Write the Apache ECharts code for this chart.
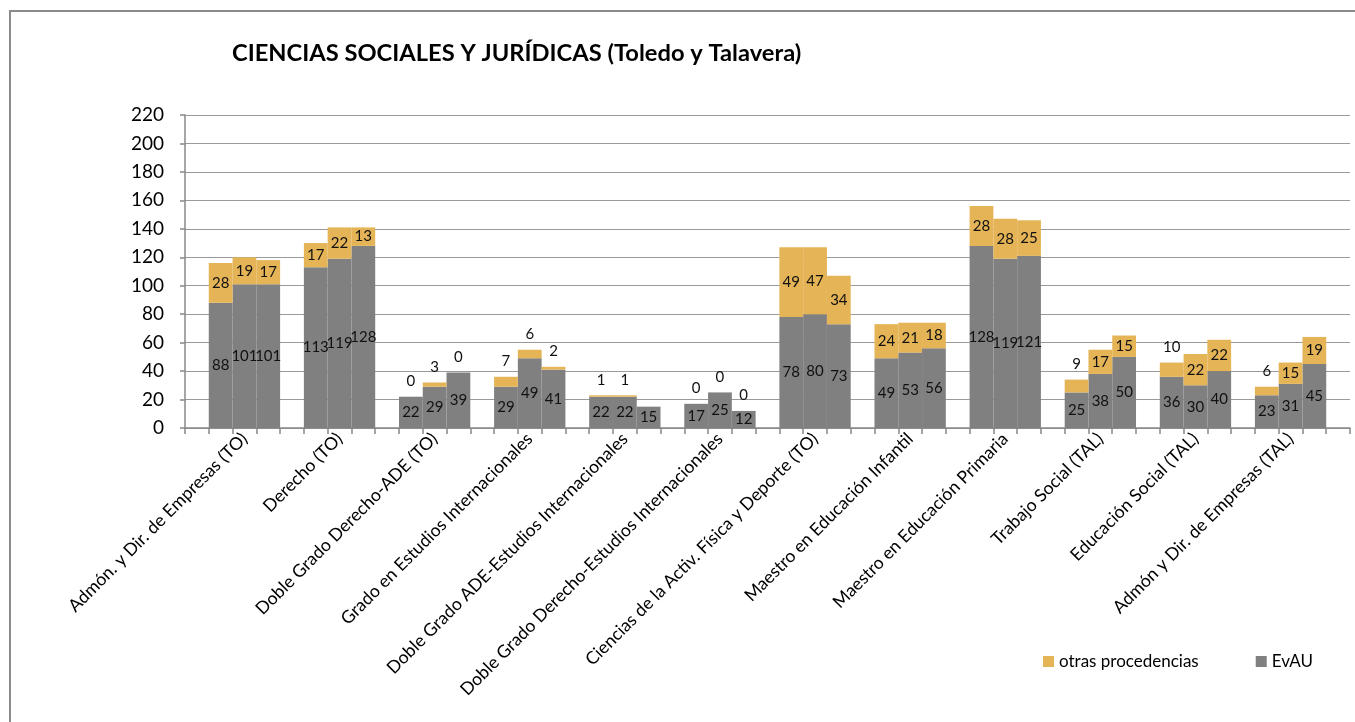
<!DOCTYPE html>
<html>
<head>
<meta charset="utf-8">
<script src="https://cdn.jsdelivr.net/npm/echarts@6/dist/echarts.min.js"></script>
<style>
  html, body { margin: 0; padding: 0; background: #fff; }
  #chart { width: 1355px; height: 722px; }
</style>
</head>
<body>
<div id="chart"></div>
<script>
// titulaciones (un grupo de 3 barras por titulación)
const categories = [
  'Admón. y Dir. de Empresas (TO)',
  'Derecho (TO)',
  'Doble Grado Derecho-ADE (TO)',
  'Grado en Estudios Internacionales',
  'Doble Grado ADE-Estudios Internacionales',
  'Doble Grado Derecho-Estudios Internacionales',
  'Ciencias de la Activ. Física y Deporte (TO)',
  'Maestro en Educación Infantil',
  'Maestro en Educación Primaria',
  'Trabajo Social (TAL)',
  'Educación Social (TAL)',
  'Admón y Dir. de Empresas (TAL)'
];

// EvAU, barra 1/2/3 de cada grupo
const evau1 = [88, 113, 22, 29, 22, 17, 78, 49, 128, 25, 36, 23];
const evau2 = [101, 119, 29, 49, 22, 25, 80, 53, 119, 38, 30, 31];
const evau3 = [101, 128, 39, 41, 15, 12, 73, 56, 121, 50, 40, 45];

// otras procedencias, barra 1/2/3 de cada grupo
const otras1 = [28, 17, 0, 7, 1, 0, 49, 24, 28, 9, 10, 6];
const otras2 = [19, 22, 3, 6, 1, 0, 47, 21, 28, 17, 22, 15];
const otras3 = [17, 13, 0, 2, null, 0, 34, 18, 25, 15, 22, 19];

const yTicks = { min: 0, max: 220, step: 20 };

// el eje x tiene una ranura por barra y una vacía entre grupos (como en Excel)
const SLOTS = categories.length * 4 + 1;
const slotLabels = new Array(SLOTS).fill('');
const evauSlots = new Array(SLOTS).fill(null);
const otrasSlots = new Array(SLOTS).fill(null);
categories.forEach((c, k) => {
  const s = 1 + 4 * k;
  slotLabels[s + 1] = c;
  [evau1, evau2, evau3].forEach((arr, j) => { evauSlots[s + j] = arr[k]; });
  [otras1, otras2, otras3].forEach((arr, j) => {
    const v = arr[k];
    otrasSlots[s + j] = v == null ? null : {
      value: v,
      label: v < 11 ? { position: 'top', distance: 8 } : { position: 'inside' }
    };
  });
});

const FONT = 'Lato';
const chart = echarts.init(document.getElementById('chart'));

chart.setOption({
  animation: false,
  backgroundColor: '#fff',
  textStyle: { fontFamily: FONT },
  title: {
    text: 'CIENCIAS SOCIALES Y JURÍDICAS (Toledo y Talavera)',
    left: 232,
    top: 41,
    padding: 0,
    textStyle: { fontFamily: FONT, fontWeight: 'bold', fontSize: 23.7, color: '#000' }
  },
  graphic: [{
    type: 'rect',
    silent: true,
    shape: { x: 10, y: 11, width: 2000, height: 2000 },
    style: { fill: 'none', stroke: '#8a8a8a', lineWidth: 2 }
  }],
  legend: {
    data: ['otras procedencias', 'EvAU'],
    left: 1043,
    top: 653,
    padding: 0,
    icon: 'rect',
    itemWidth: 11,
    itemHeight: 11,
    itemGap: 57,
    textStyle: { fontFamily: FONT, fontSize: 17, color: '#000' }
  },
  grid: { left: 185, right: 5, top: 115, bottom: 294, containLabel: false },
  xAxis: {
    type: 'category',
    data: slotLabels,
    boundaryGap: true,
    axisLine: { lineStyle: { color: '#888', width: 1.5 } },
    axisTick: { show: true, interval: 0, length: 6, lineStyle: { color: '#888', width: 1.5 } },
    axisLabel: {
      interval: 0,
      rotate: 45,
      margin: 8,
      fontFamily: FONT,
      fontSize: 17.6,
      color: '#000'
    },
    splitLine: { show: false }
  },
  yAxis: {
    type: 'value',
    min: yTicks.min,
    max: yTicks.max,
    interval: yTicks.step,
    axisLine: { show: true, lineStyle: { color: '#888', width: 1.5 } },
    axisTick: { show: true, length: 5, lineStyle: { color: '#888', width: 1.5 } },
    axisLabel: { margin: 21, fontFamily: FONT, fontSize: 19, color: '#000' },
    splitLine: { lineStyle: { color: '#9a9a9a', width: 1.2 } }
  },
  series: [
    {
      name: 'EvAU',
      type: 'bar',
      stack: 'total',
      barWidth: '100%',
      barGap: '0%',
      itemStyle: { color: '#808080' },
      label: { show: true, position: 'inside', fontFamily: FONT, fontSize: 15, color: '#111' },
      data: evauSlots
    },
    {
      name: 'otras procedencias',
      type: 'bar',
      stack: 'total',
      barWidth: '100%',
      barGap: '0%',
      itemStyle: { color: '#E4B456' },
      label: { show: true, position: 'inside', fontFamily: FONT, fontSize: 15, color: '#111' },
      data: otrasSlots
    }
  ]
});
</script>
</body>
</html>
